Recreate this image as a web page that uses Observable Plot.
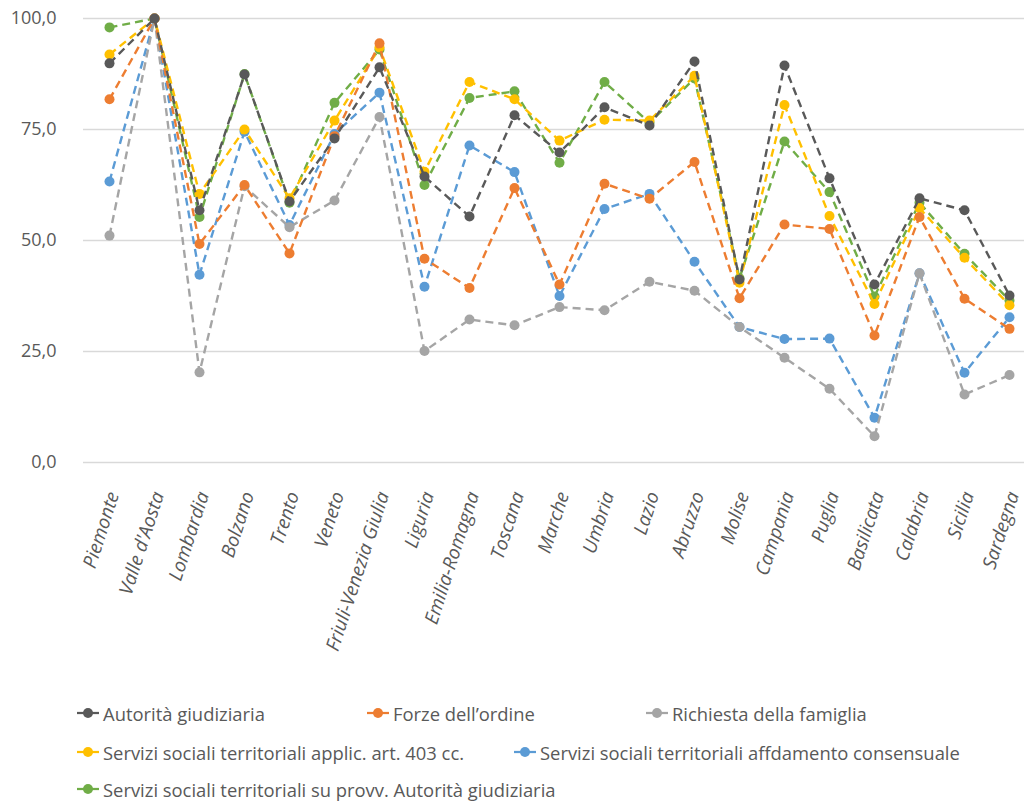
<!DOCTYPE html>
<html>
<head>
<meta charset="utf-8">
<script src="https://cdn.jsdelivr.net/npm/d3@7"></script>
<script src="https://cdn.jsdelivr.net/npm/@observablehq/plot@0.6"></script>
<style>
  html, body { margin: 0; padding: 0; background: #fff; }
  #wrap { position: relative; width: 1024px; height: 801px; font-family: "Open Sans", sans-serif; }
  .leg { position: absolute; display: flex; align-items: center; font-size: 18.4px; color: #595959; white-space: nowrap; }
  .leg svg { margin-right: 4px; }
</style>
</head>
<body>
<div id="wrap"></div>
<script>
const regions = ["Piemonte","Valle d'Aosta","Lombardia","Bolzano","Trento","Veneto","Friuli-Venezia Giulia","Liguria","Emilia-Romagna","Toscana","Marche","Umbria","Lazio","Abruzzo","Molise","Campania","Puglia","Basilicata","Calabria","Sicilia","Sardegna"];

const seriesNames = ["Autorità giudiziaria","Forze dell’ordine","Richiesta della famiglia","Servizi sociali territoriali applic. art. 403 cc.","Servizi sociali territoriali affdamento consensuale","Servizi sociali territoriali su provv. Autorità giudiziaria"];
const seriesColors = ["#595959","#ED7D31","#A5A5A5","#FFC000","#5B9BD5","#70AD47"];

const autorita    = [89.9,100,56.8,87.4,58.8,73.0,89.0,64.4,55.4,78.2,69.8,80.0,75.9,90.3,41.2,89.4,64.0,40.1,59.5,56.8,37.6];
const forze       = [81.8,100,49.2,62.5,47.1,73.5,94.4,45.9,39.3,61.8,40.1,62.8,59.4,67.7,37.0,53.6,52.6,28.6,55.3,36.9,30.1];
const richiesta   = [51.1,100,20.3,62.2,53.0,59.0,77.8,25.1,32.2,30.9,35.0,34.3,40.7,38.7,30.5,23.6,16.6,5.9,42.6,15.3,19.7];
const art403      = [91.9,100,60.5,75.0,59.5,77.0,93.5,65.5,85.7,81.8,72.5,77.2,77.0,87.1,40.5,80.5,55.5,35.7,57.3,46.1,35.4];
const affidamento = [63.3,100,42.3,74.5,53.5,74.0,83.3,39.6,71.4,65.4,37.5,57.1,60.5,45.2,30.5,27.8,27.9,10.1,42.6,20.2,32.7];
const provv       = [98.0,100,55.3,87.5,58.5,81.0,93.0,62.5,82.1,83.6,67.5,85.7,76.5,86.5,41.5,72.3,60.9,37.4,58.5,47.0,36.5];

const seriesValues = [autorita, forze, richiesta, art403, affidamento, provv];

const H = 600;
const marks = [
  Plot.gridY([0,25,50,75,100], {stroke: "#d9d9d9", strokeOpacity: 1, strokeWidth: 1.3}),
  Plot.axisY([0,25,50,75,100], {tickSize: 0, tickPadding: 27, fontSize: 18, fill: "#595959", label: null,
    tickFormat: d => d.toFixed(1).replace(".", ",")}),
  Plot.axisX({tickSize: 0, tickPadding: 30, dx: 4, tickRotate: -72, fontSize: 19, fill: "#595959", fontStyle: "italic", label: null})
];
// draw last series first so the first series ends on top
for (let s = seriesNames.length - 1; s >= 0; s--) {
  const data = regions.map((r, i) => ({region: r, value: seriesValues[s][i]}));
  marks.push(Plot.line(data, {x: "region", y: "value", stroke: seriesColors[s], strokeWidth: 2.4, strokeDasharray: "8,5", strokeLinecap: "butt"}));
  marks.push(Plot.dot(data, {x: "region", y: "value", fill: seriesColors[s], r: 5}));
}

const chart = Plot.plot({
  width: 1024,
  height: H,
  marginTop: 18,
  marginBottom: H - 462,
  marginLeft: 83,
  marginRight: 0,
  style: {fontFamily: "Open Sans, sans-serif", background: "#fff", overflow: "visible"},
  x: {type: "point", domain: regions, range: [104, 1014], padding: 0},
  y: {domain: [0, 100]},
  marks
});
const wrap = document.getElementById("wrap");
wrap.appendChild(chart);

const legendPos = [
  {left: 77, top: 713}, {left: 367, top: 713}, {left: 646, top: 713},
  {left: 77, top: 752}, {left: 514, top: 752},
  {left: 77, top: 789}
];
seriesNames.forEach((name, i) => {
  const d = document.createElement("div");
  d.className = "leg";
  d.style.left = legendPos[i].left + "px";
  d.style.top = (legendPos[i].top - 12) + "px";
  d.style.height = "24px";
  d.innerHTML = `<svg width="22" height="12"><line x1="0" x2="22" y1="6" y2="6" stroke="${seriesColors[i]}" stroke-width="2.25"/><circle cx="11" cy="6" r="5" fill="${seriesColors[i]}"/></svg><span>${name}</span>`;
  wrap.appendChild(d);
});
</script>
</body>
</html>
